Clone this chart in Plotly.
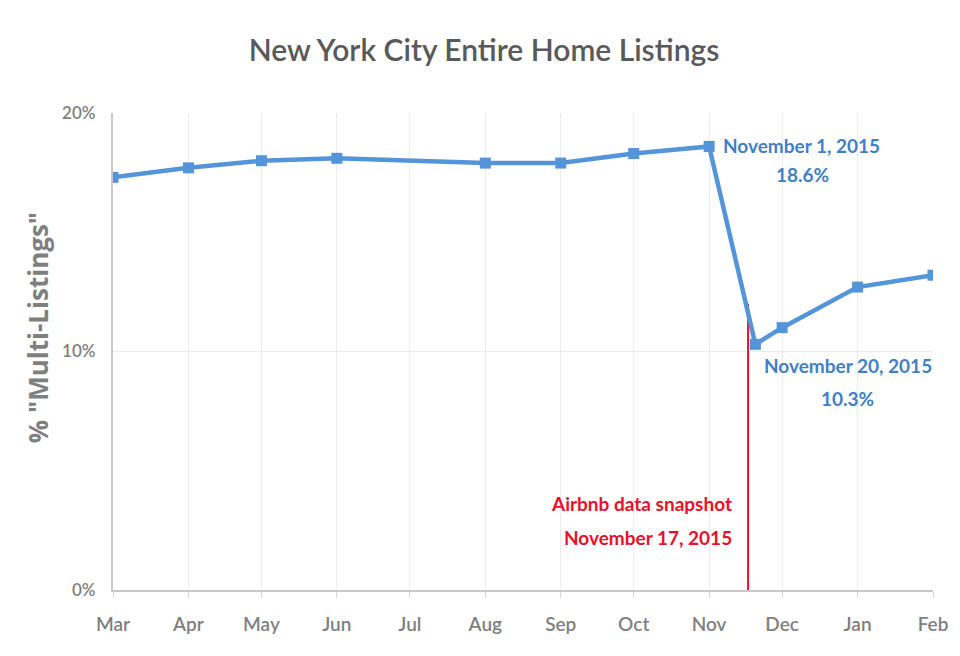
import plotly.graph_objects as go

dates = ["2015-03-01", "2015-04-01", "2015-05-01", "2015-06-01", "2015-08-01",
         "2015-09-01", "2015-10-01", "2015-11-01", "2015-11-20", "2015-12-01",
         "2016-01-01", "2016-02-01"]
multi_pct = [17.3, 17.7, 18.0, 18.1, 17.9, 17.9, 18.3, 18.6, 10.3, 11.0, 12.7, 13.2]

tick_dates = ["2015-03-01", "2015-04-01", "2015-05-01", "2015-06-01", "2015-07-01",
              "2015-08-01", "2015-09-01", "2015-10-01", "2015-11-01", "2015-12-01",
              "2016-01-01", "2016-02-01"]
tick_labels = ["Mar", "Apr", "May", "Jun", "Jul", "Aug", "Sep", "Oct", "Nov", "Dec", "Jan", "Feb"]

snapshot_date = "2015-11-17"
snapshot_top = 12.0

blue = "#5494d8"
label_blue = "#3f7fc4"
red = "#e8102a"
gray = "#7f7f7f"
font = "Lato"

fig = go.Figure()
fig.add_trace(go.Scatter(
    x=[snapshot_date, snapshot_date], y=[0, snapshot_top], mode="lines",
    line=dict(color=red, width=2), hoverinfo="skip", showlegend=False))
fig.add_trace(go.Scatter(
    x=dates, y=multi_pct, mode="lines+markers",
    line=dict(color=blue, width=4.5),
    marker=dict(symbol="square", size=11, color=blue),
    showlegend=False))

blue_font = dict(family=font, size=19, color=label_blue, weight="bold")
red_font = dict(family=font, size=19, color=red, weight="bold")

# November 1 label
fig.add_annotation(x="2015-11-01", y=18.6, text="November 1, 2015", showarrow=False,
                   xanchor="left", yanchor="middle", xshift=12, yshift=1, font=blue_font)
fig.add_annotation(x="2015-11-01", y=18.6, text="18.6%", showarrow=False,
                   xanchor="center", yanchor="middle", xshift=93, yshift=-28, font=blue_font)
# November 20 label
fig.add_annotation(x="2015-11-20", y=10.3, text="November 20, 2015", showarrow=False,
                   xanchor="left", yanchor="middle", xshift=7, yshift=-21, font=blue_font)
fig.add_annotation(x="2015-11-20", y=10.3, text="10.3%", showarrow=False,
                   xanchor="center", yanchor="middle", xshift=92, yshift=-54, font=blue_font)
# Snapshot label
fig.add_annotation(x=snapshot_date, y=0, text="Airbnb data snapshot", showarrow=False,
                   xanchor="right", yanchor="middle", xshift=-14, yshift=87, font=red_font)
fig.add_annotation(x=snapshot_date, y=0, text="November 17, 2015", showarrow=False,
                   xanchor="right", yanchor="middle", xshift=-14, yshift=53, font=red_font)

# Y axis title
fig.add_annotation(xref="paper", yref="paper", x=-0.092, y=0.55, text='% "Multi-Listings"',
                   textangle=-90, showarrow=False, xanchor="center", yanchor="middle",
                   font=dict(family="Open Sans", size=26, color=gray, weight="bold"))

fig.update_layout(
    width=952, height=648,
    paper_bgcolor="white", plot_bgcolor="white",
    margin=dict(l=105, r=25, t=105, b=66),
    title=dict(text="New York City Entire Home Listings", x=0.5, xanchor="center",
               y=0.935, yanchor="middle",
               font=dict(family=font, size=30, color="#595959", weight=600)),
    font=dict(family=font, color=gray),
)
fig.update_xaxes(
    type="date", range=["2015-03-01", "2016-02-01"],
    tickvals=tick_dates, ticktext=tick_labels,
    showgrid=True, gridcolor="#ececec", gridwidth=1,
    showline=True, linecolor="#c8c8c8", linewidth=2,
    ticks="outside", ticklen=6, tickcolor="#d8d8d8",
    ticklabelstandoff=10,
    tickfont=dict(family=font, size=19, color=gray, weight=600),
    zeroline=False,
)
fig.update_yaxes(
    range=[0, 20], tickvals=[0, 10, 20], ticktext=["0%", "10%", "20%"],
    showgrid=True, gridcolor="#ececec", gridwidth=1,
    showline=True, linecolor="#c8c8c8", linewidth=2,
    ticks="", ticklabelstandoff=12,
    tickfont=dict(family=font, size=17, color=gray, weight=600),
    zeroline=False,
)

fig.write_html("out.html")
